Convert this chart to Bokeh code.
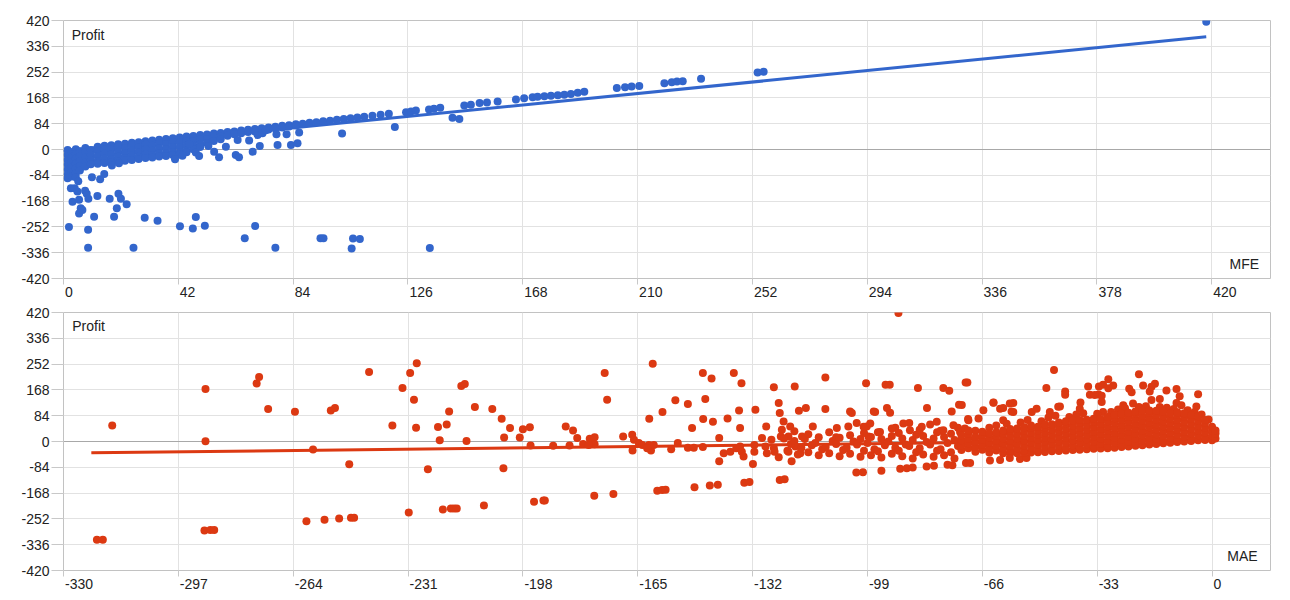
from bokeh.plotting import figure
from bokeh.layouts import column
from bokeh.models import (Label, Span, FixedTicker, Range1d, LinearAxis,
                          CustomJSTickFormatter)
from bokeh.embed import file_html
from bokeh.resources import INLINE

BLUE = "#3366CC"
RED = "#DC3912"
FONT = "Liberation Sans"
FONT_PX = 14

# ---------------- axis ticks ----------------
profit_ticks = [-420, -336, -252, -168, -84, 0, 84, 168, 252, 336, 420]
mfe_ticks = [0, 42, 84, 126, 168, 210, 252, 294, 336, 378, 420]
mae_ticks = [-330, -297, -264, -231, -198, -165, -132, -99, -66, -33, 0]

# ---------------- MFE vs Profit ----------------
# dense band: one MFE column -> list of profits
mfe_band_x = [1.5, 3, 4.5, 6, 8, 10, 12.5, 15, 17.5, 20, 22.5, 25, 27.5, 30, 32.5, 35,
              37.5, 40, 42.5, 45, 47.5, 50, 52.5, 55, 57.5, 60, 62.5, 65, 67.5, 70, 72.5,
              75, 77.5, 80, 82.5, 85, 87.5, 90, 92.5, 95, 97.5, 100, 102.5, 105, 107.5,
              110, 113, 116, 119]
mfe_band_profit = [
    [-2, -17, -33, -49, -65, -81, -94],
    [-9, -25, -41, -57, -73, -88],
    [1, -14, -30, -46, -62, -77, -90],
    [-6, -22, -38, -54, -68],
    [5, -10, -26, -42, -55],
    [-2, -18, -34, -48],
    [9, -6, -22, -38, -46],
    [12, -1, -14, -30, -44],
    [14, 0, -16, -32, -42],
    [17, 8, -8, -24, -39],
    [19, 4, -12, -28, -37],
    [22, 12, -4, -20, -34],
    [24, 8, -8, -24, -31],
    [27, 16, 0, -16, -28],
    [29, 13, -3, -19, -26],
    [32, 20, 4, -12, -23],
    [34, 18, 2, -14, -21],
    [37, 24, 8, -8, -18],
    [39, 23, 7, -9, -16],
    [42, 28, 12, -4, -9],
    [44, 28, 12, 1],
    [47, 33, 18, 8],
    [49, 34, 21],
    [52, 38, 28],
    [54, 42, 33],
    [57, 45],
    [59, 50],
    [62, 53],
    [64, 57],
    [67, 59],
    [69, 62],
    [72, 65],
    [74, 68],
    [77, 72],
    [79, 75],
    [82, 78],
    [84], [87], [89], [92], [94], [97], [99], [102], [104], [107], [110], [113], [116],
]
mfe_low_points = [
    (2.0, -252), (9.0, -261), (9.0, -320), (25.6, -320), (29.7, -222), (34.4, -232),
    (42.6, -250), (47.3, -257), (48.4, -220), (51.7, -248), (66.3, -289), (70.1, -249),
    (77.5, -320), (94.0, -289), (95.1, -289), (105.4, -322), (105.9, -290), (108.4, -291),
    (134.0, -321),
]
mfe_mid_points = [
    (2.7, -126), (4.1, -126), (5.1, -137), (3.3, -170), (5.7, -164), (6.3, -191),
    (5.7, -208), (6.9, -197), (7.9, -134), (8.5, -144), (9.1, -160), (11.2, -219),
    (12.4, -151), (10.4, -90), (13.4, -97), (14.9, -80), (16.9, -160), (18.5, -219),
    (19.5, -191), (20.1, -144), (21.0, -160), (23.1, -178), (5.4, -103),
    (17.7, -52), (20.3, -45), (40.8, -32), (43.5, -20), (46.0, 18), (48.4, -10),
    (49.6, -21), (53.0, 11), (55.1, -7), (56.9, -25), (59.4, 9), (63.7, 31), (63.0, -18),
    (64.2, -25), (67.9, 29), (69.2, -7), (71.8, 11), (71.0, 47), (72.8, 53), (74.0, 63),
    (77.9, 50), (78.3, 15), (81.6, 50), (83.2, 15), (85.6, 20), (86.2, 55), (101.9, 52),
    (121.2, 73),
]
mfe_high_points = [
    (125.3, 121), (127.1, 124), (128.9, 127), (133.7, 130), (135.5, 133), (137.8, 136),
    (142.3, 103), (144.8, 99), (146.6, 143), (149.0, 146), (152.2, 151), (154.9, 153),
    (158.8, 156), (165.5, 163), (168.5, 167), (171.6, 170), (173.4, 172), (175.9, 173),
    (178.3, 175), (180.8, 177), (183.2, 178), (185.6, 181), (188.1, 185), (190.5, 188),
    (202.4, 200), (205.4, 203), (207.8, 205), (210.6, 207), (219.8, 216), (222.5, 219),
    (224.4, 221), (226.5, 222), (233.2, 230), (253.9, 251), (256.1, 253), (418.0, 416),
]
mfe_trend_x = [0, 418]
mfe_trend_y = [-4, 367]

# ---------------- MAE vs Profit ----------------
mae_semi_points = [
    (-122, -30), (-121, -8), (-123, 10),
    (-119, -42), (-118, -20), (-120, 2),
    (-116, -35), (-115, -12), (-117, 8), (-116, 24),
    (-113, -45), (-112, -25), (-114, -5), (-113, 14),
    (-110, -38), (-111, -18), (-109, 2), (-110, 30),
    (-107, -48), (-106, -28), (-108, -8), (-107, 12),
    (-104, -40), (-105, -20), (-103, 0), (-104, 20),
    (-101, -50), (-100, -30), (-102, -10), (-101, 8), (-100, 28),
    (-98, -45), (-97, -25), (-99, -5), (-98, 15),
    (-95, -52), (-96, -32), (-94, -12), (-95, 8), (-96, 30),
    (-92, -40), (-91, -20), (-93, 0), (-92, 18), (-91, 45),
    (-89, -48), (-90, -30), (-88, -10), (-89, 10), (-90, 28),
    (-86, -55), (-85, -35), (-87, -15), (-86, 5), (-85, 22), (-87, 60),
    (-83, -42), (-84, -22), (-82, -2), (-83, 18), (-84, 38),
    (-80, -50), (-79, -30), (-81, -10), (-80, 10), (-79, 30), (-81, 55),
    (-77, -45), (-78, -25), (-76, -5), (-77, 15), (-78, 35),
    (-74, -55), (-75, -35), (-73, -15), (-74, 5), (-75, 25), (-73, 45),
    (-100.1, 48), (-98.2, 59), (-95.4, 31), (-92.0, 42), (-88.7, 59), (-86.8, 37),
    (-83.4, 48), (-79.1, 64), (-77.2, 37), (-74.3, 53), (-72.4, 31),
]
mae_band_x = [-72, -70, -68, -66, -64, -62, -60, -58, -56, -54, -52, -50, -48, -46, -44,
              -42, -40, -38, -36, -34, -32, -30, -28, -26, -24, -22, -20, -18, -16, -14,
              -12, -10, -8, -6, -4, -2, 0, 1]
mae_band_profit = [
    [-28, -12, 4, 20],
    [-22, -6, 10, 26, 36],
    [-33, -17, -1, 15],
    [-27, -11, 5, 21, 32],
    [-36, -20, -4, 12, 27],
    [-29, -13, 3, 19, 30],
    [-38, -22, -6, 10, 26, 36],
    [-38, -30, -14, 2, 18, 34, 41],
    [-38, -22, -6, 10, 26, 42],
    [-37, -29, -13, 3, 19, 35, 46],
    [-36, -20, -4, 12, 28, 44, 52],
    [-35, -27, -11, 5, 21, 37, 48],
    [-34, -18, -2, 14, 30, 46, 56],
    [-32, -24, -8, 8, 24, 40, 56],
    [-31, -15, 1, 17, 33, 49, 62],
    [-29, -21, -5, 11, 27, 43, 59, 66],
    [-28, -12, 4, 20, 36, 52, 68],
    [-27, -19, -3, 13, 29, 45, 61, 70],
    [-25, -9, 7, 23, 39, 55, 71],
    [-24, -16, 0, 16, 32, 48, 64, 74],
    [-23, -7, 9, 25, 41, 57, 73],
    [-22, -14, 2, 18, 34, 50, 66, 80],
    [-20, -4, 12, 28, 44, 60, 76, 86],
    [-18, -10, 6, 22, 38, 54, 70, 86, 90],
    [-16, 0, 16, 32, 48, 64, 80, 94],
    [-14, -6, 10, 26, 42, 58, 74, 90, 98],
    [-12, 4, 20, 36, 52, 68, 84, 100],
    [-10, -2, 14, 30, 46, 62, 78, 94, 101],
    [-8, 8, 24, 40, 56, 72, 88, 100],
    [-6, 2, 18, 34, 50, 66, 82, 98],
    [-4, 12, 28, 44, 60, 76, 92],
    [-2, 6, 22, 38, 54, 70, 86, 95],
    [0, 16, 32, 48, 64, 80, 92],
    [2, 10, 26, 42, 58, 74, 86],
    [4, 20, 36, 52, 68, 82],
    [5, 13, 29, 45, 61, 70],
    [4, 20, 36, 48],
    [10, 26, 36],
]
# ragged dots just above the dense mass
mae_rim_points = [
    (-71.9, 119), (-67.1, 75), (-70.0, 69), (-65.7, 102), (-62.8, 126), (-60.9, 107),
    (-58.1, 124), (-57.1, 96), (-60.0, 69), (-51.8, 96), (-50.4, 107), (-46.6, 96),
    (-44.2, 113), (-38.0, 107), (-33.7, 151), (-29.8, 173), (-31.7, 129), (-31.3, 96),
    (-25.5, 118), (-22.7, 124), (-17.4, 178), (-17.4, 135), (-8.8, 118),
    (-64, 45), (-62, 52), (-59, 58), (-55, 62), (-53, 70), (-49, 66), (-47, 78),
    (-45, 84), (-41, 80), (-39, 88), (-37, 92), (-33, 90), (-29, 96), (-27, 104),
    (-25, 108), (-21, 112), (-19, 115), (-15, 112), (-13, 110), (-11, 106), (-7, 102),
    (-5, 96), (-3, 88), (-1, 72), (-68, 35), (-71, 42),
]
mae_left_points = [
    (-320.4, -320), (-318.7, -320), (-316.0, 52), (-289.2, 171), (-289.2, 1),
    (-289.5, -290), (-287.8, -288), (-286.7, -288), (-274.5, 189), (-273.8, 210),
    (-271.2, 106), (-263.5, 97), (-260.2, -260), (-258.3, -26), (-255.0, -255),
    (-253.2, 101), (-252.0, 109), (-250.8, -251), (-247.9, -74), (-247.4, -248),
    (-246.5, -248), (-242.2, 226), (-235.5, 52), (-232.6, 174), (-230.8, -231),
    (-230.4, 223), (-228.5, 255), (-229.3, 136), (-228.7, 45), (-225.3, -90),
    (-222.4, 47), (-221.9, 4), (-221.0, -221), (-219.9, 55), (-219.2, 98),
    (-218.7, -218), (-217.8, -218), (-217.0, -218), (-215.7, 181), (-214.7, 187),
    (-214.2, 2),
]
mae_center_points = [
    (-211.8, 112), (-209.2, -208), (-206.8, 106), (-204.1, 74), (-203.6, -87), (-203.4, 13),
    (-201.7, 44), (-198.9, 13), (-198.0, 40), (-196.0, 46), (-195.8, -13), (-194.8, -196),
    (-192.1, -192), (-191.7, -192), (-189.3, -14), (-185.7, 49), (-184.6, -13), (-183.6, 36),
    (-182.4, 11), (-180.7, -8), (-178.8, 9), (-177.4, 14), (-177.4, -9), (-179.1, -11),
    (-177.5, -177), (-174.5, 223), (-173.8, 136), (-172.0, -171), (-169.2, 16), (-166.6, 22),
    (-166.1, 6), (-164.7, -5), (-163.7, -11), (-166.5, -29), (-161.7, 74), (-160.7, 253),
    (-161.8, -11), (-161.2, -29), (-160.4, -11), (-162.3, -22), (-159.4, -160), (-158.0, -158),
    (-157.0, -157), (-157.9, 96), (-155.4, -25), (-154.2, 134), (-153.5, -5), (-150.6, 122),
    (-150.6, -20), (-148.9, -20), (-149.4, 44), (-148.7, -149), (-146.3, 223), (-146.2, 73),
    (-145.6, 138), (-146.3, -18), (-144.3, -143), (-142.0, -141), (-143.8, 205), (-143.4, 64),
    (-141.6, 11), (-141.6, -64), (-140.3, -38), (-138.4, -33), (-136.7, -22), (-135.6, -16),
    (-135.1, -33), (-134.6, -49), (-139.2, 75), (-137.4, 223), (-135.9, 101), (-135.6, 44),
    (-135.2, 190), (-134.4, -134), (-132.9, -132), (-131.9, -73), (-131.2, 103), (-131.5, -11),
    (-131.5, -33), (-129.3, 11), (-128.3, -16), (-127.9, -38), (-128.1, 49), (-126.6, 6),
    (-125.9, -22), (-125.7, -33), (-125.9, 177), (-124.5, 125), (-124.2, 93), (-123.1, 65),
    (-123.6, 38), (-123.9, 16), (-124.5, -51), (-124.2, -125), (-122.8, -123), (-121.2, 49),
    (-121.7, 16), (-120.0, 33), (-119.9, 179), (-118.7, 100), (-117.8, 16), (-120.8, -64),
    (-121.7, -33), (-119.7, -16), (-118.3, -38), (-116.7, 109), (-114.7, 49), (-111.1, 208),
    (-111.1, 106), (-107.8, 44), (-108.0, 14), (-104.0, 98), (-103.5, 93), (-104.5, 49),
    (-102.1, 60), (-99.2, 49), (-98.7, 16), (-102.2, -101), (-100.3, -100), (-99.4, 190),
]
mae_right_points = [
    (-90.1, 418), (-93.8, 185), (-92.6, 185), (-97.2, 98), (-96.8, 96), (-93.4, 109),
    (-92.5, 94), (-84.5, 174), (-81.9, 109), (-77.2, 174), (-75.5, 165), (-74.8, 98),
    (-70.8, 192), (-70.3, 192), (-72.7, 120), (-70.1, 73), (-62.8, 127), (-60.0, 109),
    (-57.1, 125), (-57.6, 98), (-47.6, 174), (-45.4, 233), (-42.2, 163), (-42.2, 152),
    (-43.7, 114), (-37.8, 127), (-35.6, 179), (-35.1, 152), (-32.5, 179), (-29.8, 203),
    (-28.4, 182), (-31.3, 185), (-32.6, 153), (-31.7, 149), (-23.8, 172), (-23.1, 160),
    (-21.0, 219), (-19.8, 182), (-17.9, 163), (-16.4, 188), (-15.0, 138), (-13.1, 166),
    (-10.2, 171), (-9.3, 147), (-4.0, 154), (-10.2, 125), (-4.5, 114),
    (-95.0, -95), (-89.6, -89), (-87.7, -87), (-86.0, -85), (-82.0, -81), (-79.9, -79),
    (-76.0, -76), (-74.6, -77), (-70.7, -70), (-69.5, -70), (-63.8, -62), (-60.9, -60),
    (-58.1, -54), (-55.2, -57), (-53.3, -54),
]
mae_trend_x = [-322, 1]
mae_trend_y = [-37, 6]


def columns_to_xy(xs, cols):
    X, Y = [], []
    for x, col in zip(xs, cols, strict=True):
        for y in col:
            X.append(x)
            Y.append(y)
    return X, Y


def pairs_to_xy(*groups):
    X, Y = [], []
    for g in groups:
        for x, y in g:
            X.append(x)
            Y.append(y)
    return X, Y


FRAME_W = 1207
BORDER_L = 63
BORDER_R = 12


def text_width_px(s):
    # Liberation Sans (Arial metrics): digits 0.556em, hyphen 0.333em
    return sum(0.333 if ch == "-" else 0.556 for ch in s) * FONT_PX


def make_figure(x_start, x_end, xticks, height, top_border):
    p = figure(width=BORDER_L + FRAME_W + BORDER_R, height=height,
               x_range=Range1d(x_start, x_end), y_range=Range1d(-420, 420),
               output_backend="svg", toolbar_location=None,
               min_border_left=BORDER_L, min_border_right=BORDER_R,
               min_border_top=top_border, min_border_bottom=28)
    p.background_fill_color = "white"
    p.border_fill_color = "white"
    p.outline_line_color = "#c2c2c2"
    p.outline_line_width = 1

    xa = p.below[0]
    xa.ticker = FixedTicker(ticks=xticks)
    xa.axis_line_color = None
    xa.minor_tick_line_color = None
    xa.major_tick_line_color = "#c8c8c8"
    xa.major_tick_in = 0
    xa.major_tick_out = 6
    xa.major_label_standoff = 0
    xa.major_label_text_font_size = "0px"
    xa.formatter = CustomJSTickFormatter(code="return ''")

    ya = p.left[0]
    ya.ticker = FixedTicker(ticks=profit_ticks)
    ya.formatter = CustomJSTickFormatter(code="return String(tick)")
    ya.axis_line_color = None
    ya.minor_tick_line_color = None
    ya.major_tick_line_color = "#c8c8c8"
    ya.major_tick_in = 0
    ya.major_tick_out = 12
    ya.major_label_standoff = 2
    ya.major_label_text_font = FONT
    ya.major_label_text_font_size = f"{FONT_PX}px"
    ya.major_label_text_color = "#222222"

    # tick labels start just right of their tick, as in the reference
    ppu = FRAME_W / (x_end - x_start)
    texts = [str(t) for t in xticks]
    label_pos = [t + (text_width_px(s) / 2 + 1.5) / ppu for t, s in zip(xticks, texts)]
    lab_axis = LinearAxis(ticker=FixedTicker(ticks=label_pos),
                          formatter=CustomJSTickFormatter(args=dict(labels=texts),
                                                          code="return labels[index]"))
    lab_axis.axis_line_color = None
    lab_axis.major_tick_line_color = None
    lab_axis.minor_tick_line_color = None
    lab_axis.major_tick_in = 0
    lab_axis.major_tick_out = 0
    lab_axis.major_label_standoff = 2
    lab_axis.major_label_text_font = FONT
    lab_axis.major_label_text_font_size = f"{FONT_PX}px"
    lab_axis.major_label_text_color = "#222222"
    p.add_layout(lab_axis, "below")

    p.xgrid.grid_line_color = "#e2e2e2"
    p.ygrid.grid_line_color = "#e2e2e2"
    p.add_layout(Span(location=0, dimension="width", line_color="#a8a8a8",
                      line_width=1, level="underlay"))
    return p


# ---- top chart ----
p1 = make_figure(0, 441.5, mfe_ticks, 306, 20)
p1.line(mfe_trend_x, mfe_trend_y, line_width=3, line_color=BLUE)
bx, by = columns_to_xy(mfe_band_x, mfe_band_profit)
ox, oy = pairs_to_xy(mfe_low_points, mfe_mid_points, mfe_high_points)
p1.scatter(bx + ox, by + oy, size=8, fill_color=BLUE, line_color=None)
p1.add_layout(Label(x=3.0, y=374, text="Profit", text_baseline="middle", text_align="left",
                    text_font=FONT, text_font_size=f"{FONT_PX}px", text_color="#222222"))
p1.add_layout(Label(x=437.3, y=-373, text="MFE", text_baseline="middle", text_align="right",
                    text_font=FONT, text_font_size=f"{FONT_PX}px", text_color="#222222"))

# ---- bottom chart ----
p2 = make_figure(-330, 16.8, mae_ticks, 292, 6)
p2.line(mae_trend_x, mae_trend_y, line_width=3, line_color=RED)
dx, dy = columns_to_xy(mae_band_x, mae_band_profit)
sx, sy = pairs_to_xy(mae_left_points, mae_center_points, mae_right_points,
                     mae_semi_points, mae_rim_points)
p2.scatter(sx + dx, sy + dy, size=8, fill_color=RED, line_color=None)
p2.add_layout(Label(x=-327.5, y=375, text="Profit", text_baseline="middle", text_align="left",
                    text_font=FONT, text_font_size=f"{FONT_PX}px", text_color="#222222"))
p2.add_layout(Label(x=13.1, y=-373, text="MAE", text_baseline="middle", text_align="right",
                    text_font=FONT, text_font_size=f"{FONT_PX}px", text_color="#222222"))

layout = column(p1, p2, spacing=0)
open("out.html", "w").write(file_html(layout, INLINE))
